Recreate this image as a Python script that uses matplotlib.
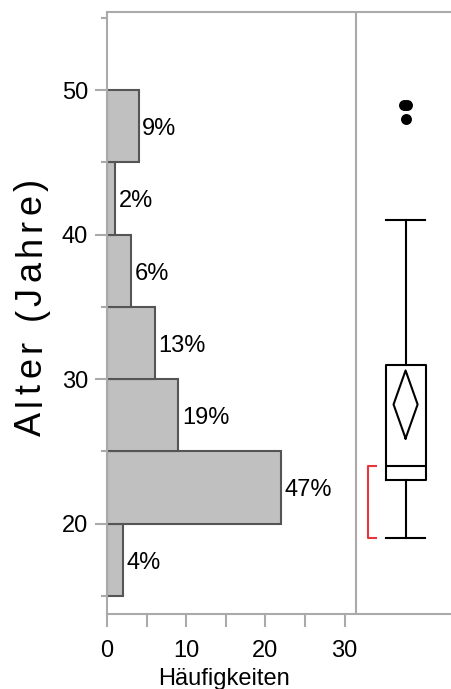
import matplotlib.pyplot as plt
from matplotlib.font_manager import FontProperties, findfont
from matplotlib.ft2font import FT2Font

# ===========================
#   DATEN
# ===========================
bin_edges = [15, 20, 25, 30, 35, 40, 45, 50]
counts = [2, 22, 9, 6, 3, 1, 4]
percent_labels = ["4%", "47%", "19%", "13%", "6%", "2%", "9%"]

# Kennwerte des Boxplots
q1, median, q3 = 23, 24, 31
whisker_lo, whisker_hi = 19, 41
outliers = [48, 49, 49]
outlier_jitter = [0.0, -0.19, 0.19]
mean, ci_lo, ci_hi = 28.25, 25.9, 30.6
shortest_half = [19, 24]

# ===========================
#   STIL
# ===========================
plt.rcParams["font.family"] = ["Liberation Sans", "DejaVu Sans"]
grau = "#aaaaaa"
balken = "#c0c0c0"
kante = "#555555"
rot = "#e8343c"
lw = 1.5
fs = 17

fig = plt.figure(figsize=(4.52, 6.89), dpi=100)
ax = fig.add_axes([107 / 452, 75.5 / 689, 1 - 107 / 452, 601.2 / 689])

# Histogramm (horizontal)
ax.barh(bin_edges[:-1], counts, height=5, align="edge",
        color=balken, edgecolor=kante, linewidth=lw, zorder=2)
for lo, c, lab in zip(bin_edges[:-1], counts, percent_labels):
    ax.text(c + 0.45, lo + 2.3, lab, ha="left", va="center", fontsize=fs)

# Trennlinie zwischen Histogramm und Boxplot
ax.axvline(31.4, color=grau, linewidth=lw, zorder=1)

# Boxplot
pos = 37.7
stats = [dict(med=median, q1=q1, q3=q3, whislo=whisker_lo,
              whishi=whisker_hi, fliers=[])]
linie = dict(color="black", linewidth=lw)
ax.bxp(stats, positions=[pos], widths=5.05, capwidths=4.9,
       showfliers=False, manage_ticks=False,
       boxprops=linie, whiskerprops=linie, capprops=linie,
       medianprops=linie)

# Mittelwert-Raute
hw = 1.52
ax.plot([pos, pos + hw, pos, pos - hw, pos],
        [ci_lo, mean, ci_hi, mean, ci_lo], color="black", linewidth=lw)

# Ausreißer
ax.scatter([pos + j for j in outlier_jitter], outliers, s=62,
           color="black", zorder=3, linewidths=0)

# kürzeste Hälfte
ax.plot([33.96, 32.95, 32.95, 33.96],
        [shortest_half[1], shortest_half[1], shortest_half[0], shortest_half[0]],
        color=rot, linewidth=lw)

# ===========================
#   ACHSEN
# ===========================
ax.set_xlim(0, 43.56)
ax.set_ylim(13.78, 55.39)

ax.set_xticks([0, 5, 10, 15, 20, 25, 30])
ax.set_xticklabels(["0", "", "10", "", "20", "", "30"])
ax.set_yticks([20, 30, 40, 50])
ax.set_yticks([15, 25, 35, 45, 55], minor=True)

ax.tick_params(axis="x", length=9.4, width=lw, color=grau, pad=9.5,
               labelsize=fs)
ax.tick_params(axis="y", which="major", length=8.6, width=lw, color=grau,
               pad=5, labelsize=fs)
ax.tick_params(axis="y", which="minor", length=4, width=lw, color=grau)

for side in ["left", "top", "bottom"]:
    ax.spines[side].set_color(grau)
    ax.spines[side].set_linewidth(lw)
ax.spines["right"].set_visible(False)

# gesperrte y-Beschriftung, Buchstabe für Buchstabe
ylabel = "Alter (Jahre)"
fp = FontProperties(family="Liberation Sans", size=26)
ft = FT2Font(findfont(fp), hinting_factor=1)
ft.set_size(26, 100)
glyphen = [ft.load_char(ord(ch)) for ch in ylabel]
sperrung = 4.6
gesamt = sum(g.horiAdvance / 64 for g in glyphen) + sperrung * (len(ylabel) - 1)

stift = (689 - 307) - gesamt / 2
for ch, g in zip(ylabel, glyphen):
    if ch != " ":
        fig.text(41 / 452, (stift + g.horiBearingX / 64) / 689, ch,
                 rotation=90, rotation_mode="anchor",
                 ha="left", va="baseline", fontproperties=fp)
    stift += g.horiAdvance / 64 + sperrung

fig.text(224 / 452, 4 / 689, "Häufigkeiten", ha="center",
         va="baseline", fontsize=fs)

fig.savefig("out.png", dpi=100)
